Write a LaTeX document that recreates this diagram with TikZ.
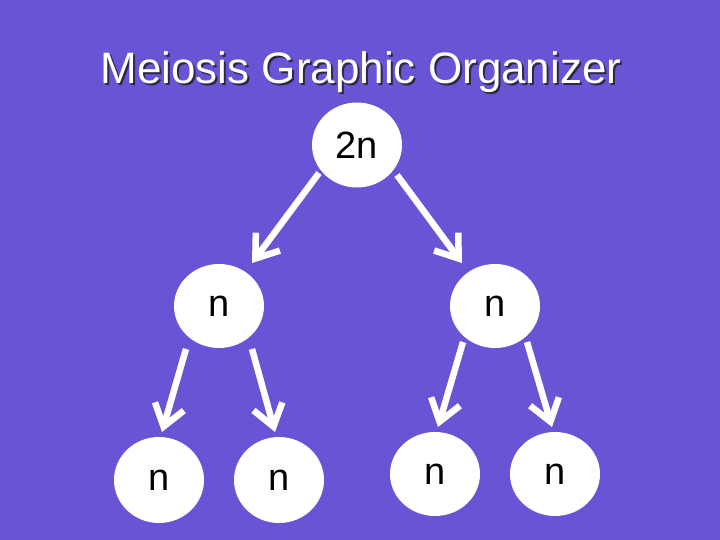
\documentclass[tikz,border=0pt]{standalone}
\usepackage{fontspec}
\setmainfont{Liberation Sans}
\usetikzlibrary{arrows.meta,calc,shapes.geometric}
\definecolor{bgpurple}{RGB}{104,84,213}
\definecolor{titleshadow}{RGB}{45,40,70}
\tikzset{
  cell/.style={ellipse, fill=white, draw=none, minimum width=90pt, minimum height=84pt, inner sep=0pt, font=\fontsize{38}{40}\selectfont, text=black},
  arr/.style={draw=white, line width=6.5pt, -{Straight Barb[length=21pt, width=30pt]}},
  titletext/.style={font=\fontsize{44}{48}\selectfont, anchor=base}
}
\begin{document}
\begin{tikzpicture}[x=1pt, y=-1pt]
\fill[bgpurple] (0,0) rectangle (720,540);
\useasboundingbox (0,0) rectangle (720,540);
\node[titletext, text=titleshadow] (titleshadow) at (363,86) {Meiosis Graphic Organizer};
\node[titletext, text=white] (title) at (361,84) {Meiosis Graphic Organizer};
\node[cell, minimum height=85pt] (top) at (357,145) {2n};
\node[cell] (ml) at (219,306) {n};
\node[cell] (mr) at (495,306) {n};
\node[cell, minimum height=86pt] (b1) at (159,480) {n};
\node[cell, minimum height=86pt] (b2) at (279,480) {n};
\node[cell] (b3) at (435,474) {n};
\node[cell] (b4) at (555,474) {n};
\draw[arr] ($(top)+(-38,28)$) -- ($(ml)+(33,-43)$);
\draw[arr] ($(top)+(40,30)$) -- ($(mr)+(-33,-43)$);
\draw[arr] ($(ml)+(-33,43)$) -- ($(b1)+(3,-48)$);
\draw[arr] ($(ml)+(33,43)$) -- ($(b2)+(-4,-48)$);
\draw[arr] ($(mr)+(-32,36)$) -- ($(b3)+(3,-47)$);
\draw[arr] ($(mr)+(32,36)$) -- ($(b4)+(-3,-47)$);
\end{tikzpicture}
\end{document}
